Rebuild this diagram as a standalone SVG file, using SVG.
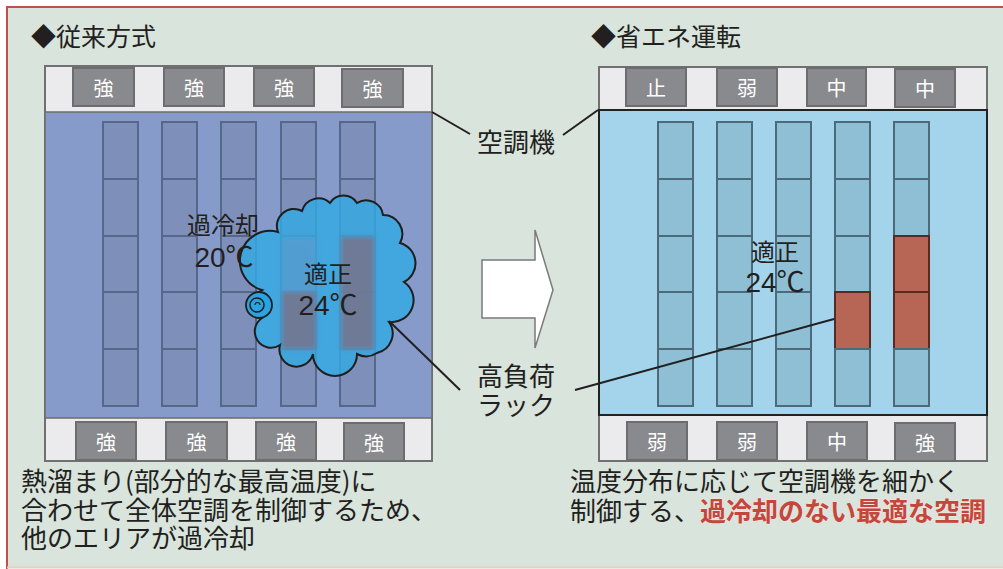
<svg xmlns="http://www.w3.org/2000/svg" width="1003" height="569" viewBox="0 0 1003 569">
<defs>
<style>
.jp{font-family:"Noto Sans CJK JP","Noto Sans CJK SC",sans-serif;fill:#231f20}
.num{font-family:"Liberation Sans","Noto Sans CJK JP",sans-serif;fill:#231f20}
.btn{fill:#898a8e;stroke:#6d6d6f;stroke-width:2}
.btxt{font-family:"Noto Sans CJK JP",sans-serif;font-size:20px;fill:#ffffff;text-anchor:middle}
.strip{fill:#ebebed;stroke:#707070;stroke-width:2}
.rackL{fill:#7e8fb9;stroke:#56688a;stroke-width:2}
.rackR{fill:#8fbfd4;stroke:#4d6a7a;stroke-width:2}
.hot{fill:#b76555;stroke:#5a2a20;stroke-width:2}
.lead{fill:none;stroke:#231f20;stroke-width:2}
</style>
<filter id="blur" x="-20%" y="-20%" width="140%" height="140%"><feGaussianBlur stdDeviation="2"/></filter>
</defs>
<rect x="0" y="0" width="1003" height="569" fill="#ffffff"/>
<rect x="7" y="7" width="996" height="560" fill="#d8e4dc"/>
<line x1="6" y1="7" x2="1003" y2="7" stroke="#c0504d" stroke-width="2"/>
<line x1="7" y1="6" x2="7" y2="569" stroke="#c0504d" stroke-width="2"/>
<line x1="7" y1="567.5" x2="1003" y2="567.5" stroke="#e2d2c2" stroke-width="2"/>

<text class="jp" x="31" y="46" font-size="25">◆従来方式</text>
<text class="jp" x="591" y="46" font-size="25">◆省エネ運転</text>

<g id="left-panel">
<rect class="strip" x="45" y="66" width="387" height="395"/>
<rect x="45" y="112" width="387" height="306" fill="#879bcb" stroke="#6c6c6c" stroke-width="1.5"/>
<g id="left-racks">
<rect class="rackL" x="103" y="122" width="35" height="57"/><rect class="rackL" x="103" y="179" width="35" height="57"/><rect class="rackL" x="103" y="236" width="35" height="56"/><rect class="rackL" x="103" y="292" width="35" height="57"/><rect class="rackL" x="103" y="349" width="35" height="57"/>
<rect class="rackL" x="162" y="122" width="35" height="57"/><rect class="rackL" x="162" y="179" width="35" height="57"/><rect class="rackL" x="162" y="236" width="35" height="56"/><rect class="rackL" x="162" y="292" width="35" height="57"/><rect class="rackL" x="162" y="349" width="35" height="57"/>
<rect class="rackL" x="221" y="122" width="35" height="57"/><rect class="rackL" x="221" y="179" width="35" height="57"/><rect class="rackL" x="221" y="236" width="35" height="56"/><rect class="rackL" x="221" y="292" width="35" height="57"/><rect class="rackL" x="221" y="349" width="35" height="57"/>
<rect class="rackL" x="281" y="122" width="35" height="57"/><rect class="rackL" x="281" y="179" width="35" height="57"/><rect class="rackL" x="281" y="236" width="35" height="56"/><rect class="rackL" x="281" y="292" width="35" height="57"/><rect class="rackL" x="281" y="349" width="35" height="57"/>
<rect class="rackL" x="340" y="122" width="35" height="57"/><rect class="rackL" x="340" y="179" width="35" height="57"/><rect class="rackL" x="340" y="236" width="35" height="56"/><rect class="rackL" x="340" y="292" width="35" height="57"/><rect class="rackL" x="340" y="349" width="35" height="57"/>
</g>
<g id="left-top-ac">
<rect class="btn" x="73" y="68" width="61" height="38"/><text class="btxt" x="103.5" y="96">強</text>
<rect class="btn" x="164" y="68" width="60" height="38"/><text class="btxt" x="194" y="96">強</text>
<rect class="btn" x="254" y="68" width="60" height="38"/><text class="btxt" x="284" y="96">強</text>
<rect class="btn" x="342" y="69" width="61" height="38"/><text class="btxt" x="372.5" y="97">強</text>
</g>
<g id="left-bottom-ac">
<rect class="btn" x="76" y="422" width="60" height="38"/><text class="btxt" x="106" y="450">強</text>
<rect class="btn" x="166" y="422" width="61" height="38"/><text class="btxt" x="196.5" y="450">強</text>
<rect class="btn" x="256" y="422" width="60" height="38"/><text class="btxt" x="286" y="450">強</text>
<rect class="btn" x="344" y="423" width="60" height="38"/><text class="btxt" x="374" y="451">強</text>
</g>
</g>

<g id="hotspot-cloud">
<path d="M262 290 A20 20 0 0 1 278 232 A17 17 0 0 1 302 211 A17 17 0 0 1 330 203 A16 16 0 0 1 357 203 A17 17 0 0 1 383 215 A19 19 0 0 1 400 243 A21 21 0 0 1 404 282 A22 22 0 0 1 389 322 A20 20 0 0 1 377 353 A20 20 0 0 1 357 354 A22 22 0 0 1 313 354 A17 17 0 0 1 280 345 A16 16 0 0 1 262 318 A16 16 0 0 1 262 290 Z" fill="#33a8e3" fill-opacity="0.82"/>
<g filter="url(#blur)">
<rect x="282" y="238" width="34" height="54" fill="#6f8fc0" opacity="0.35"/>
<rect x="282" y="292" width="34" height="57" fill="#72758f" opacity="0.9"/>
<rect x="341" y="237" width="33" height="112" fill="#72758f" opacity="0.9"/>
</g>
<path d="M262 290 A20 20 0 0 1 278 232 A17 17 0 0 1 302 211 A17 17 0 0 1 330 203 A16 16 0 0 1 357 203 A17 17 0 0 1 383 215 A19 19 0 0 1 400 243 A21 21 0 0 1 404 282 A22 22 0 0 1 389 322 A20 20 0 0 1 377 353 A20 20 0 0 1 357 354 A22 22 0 0 1 313 354 A17 17 0 0 1 280 345 A16 16 0 0 1 262 318 A16 16 0 0 1 262 290 Z" fill="none" stroke="#1e1e1e" stroke-width="2"/>
<circle cx="259" cy="305" r="13" fill="#2aa3e0" stroke="#1e1e1e" stroke-width="1.8"/>
<circle cx="257" cy="305" r="7" fill="#2aa3e0" stroke="#1e1e1e" stroke-width="1.5"/>
<path d="M255 305 A2.5 2.5 0 0 1 260 305" fill="none" stroke="#1e1e1e" stroke-width="1.2"/>
</g>

<text class="jp" x="223" y="234" font-size="24" text-anchor="middle">過冷却</text>
<text class="num" x="224" y="267" font-size="28" text-anchor="middle">20℃</text>
<text class="jp" x="328" y="283" font-size="24" text-anchor="middle">適正</text>
<text class="num" x="328" y="315" font-size="28" text-anchor="middle">24℃</text>

<g id="right-panel">
<rect class="strip" x="599" y="67" width="388" height="394"/>
<rect x="599" y="110" width="388" height="305" fill="#a3d4ec" stroke="#222222" stroke-width="2"/>
<g id="right-racks">
<rect class="rackR" x="658" y="122" width="35" height="57"/><rect class="rackR" x="658" y="179" width="35" height="57"/><rect class="rackR" x="658" y="236" width="35" height="56"/><rect class="rackR" x="658" y="292" width="35" height="57"/><rect class="rackR" x="658" y="349" width="35" height="57"/>
<rect class="rackR" x="717" y="122" width="35" height="57"/><rect class="rackR" x="717" y="179" width="35" height="57"/><rect class="rackR" x="717" y="236" width="35" height="56"/><rect class="rackR" x="717" y="292" width="35" height="57"/><rect class="rackR" x="717" y="349" width="35" height="57"/>
<rect class="rackR" x="776" y="122" width="35" height="57"/><rect class="rackR" x="776" y="179" width="35" height="57"/><rect class="rackR" x="776" y="236" width="35" height="56"/><rect class="rackR" x="776" y="292" width="35" height="57"/><rect class="rackR" x="776" y="349" width="35" height="57"/>
<rect class="rackR" x="835" y="122" width="35" height="57"/><rect class="rackR" x="835" y="179" width="35" height="57"/><rect class="rackR" x="835" y="236" width="35" height="56"/><rect class="hot" x="835" y="292" width="35" height="57"/><rect class="rackR" x="835" y="349" width="35" height="57"/>
<rect class="rackR" x="894" y="122" width="35" height="57"/><rect class="rackR" x="894" y="179" width="35" height="57"/><rect class="hot" x="894" y="236" width="35" height="56"/><rect class="hot" x="894" y="292" width="35" height="57"/><rect class="rackR" x="894" y="349" width="35" height="57"/>
</g>
<g id="right-top-ac">
<rect class="btn" x="626" y="68" width="60" height="38"/><text class="btxt" x="656" y="96">止</text>
<rect class="btn" x="717" y="68" width="60" height="38"/><text class="btxt" x="747" y="96">弱</text>
<rect class="btn" x="807" y="68" width="59" height="38"/><text class="btxt" x="836.5" y="96">中</text>
<rect class="btn" x="895" y="69" width="60" height="38"/><text class="btxt" x="925" y="97">中</text>
</g>
<g id="right-bottom-ac">
<rect class="btn" x="627" y="422" width="60" height="38"/><text class="btxt" x="657" y="450">弱</text>
<rect class="btn" x="717" y="422" width="60" height="38"/><text class="btxt" x="747" y="450">弱</text>
<rect class="btn" x="807" y="422" width="60" height="38"/><text class="btxt" x="837" y="450">中</text>
<rect class="btn" x="895" y="423" width="60" height="38"/><text class="btxt" x="925" y="451">強</text>
</g>
</g>

<text class="jp" x="775" y="261" font-size="24" text-anchor="middle">適正</text>
<text class="num" x="775" y="292" font-size="28" text-anchor="middle">24℃</text>

<g id="arrow">
<path d="M482 260 L535 260 L535 230 L553 290 L535 348 L535 318 L482 318 Z" fill="#ffffff" stroke="#7a7a7a" stroke-width="1.5"/>
</g>

<g id="connectors">
<line class="lead" x1="432" y1="112" x2="470" y2="134"/>
<line class="lead" x1="563" y1="135" x2="598" y2="110"/>
<line class="lead" x1="389" y1="321" x2="460" y2="390"/>
<line class="lead" x1="575" y1="390" x2="834" y2="319"/>
</g>

<g id="labels">
<text class="jp" x="477" y="152" font-size="26">空調機</text>
<text class="jp" x="477" y="386" font-size="26">高負荷</text>
<text class="jp" x="477" y="415" font-size="26">ラック</text>
</g>

<g id="captions">
<text class="jp" x="21" y="491" font-size="26">熱溜まり(部分的な最高温度)に</text>
<text class="jp" x="21" y="520" font-size="26">合わせて全体空調を制御するため、</text>
<text class="jp" x="21" y="548" font-size="26">他のエリアが過冷却</text>
<text class="jp" x="570" y="491" font-size="26">温度分布に応じて空調機を細かく</text>
<text class="jp" x="570" y="521" font-size="26">制御する、<tspan font-weight="bold" style="fill:#c4473c" stroke="#efe3df" stroke-width="1.5" paint-order="stroke">過冷却のない最適な空調</tspan></text>
</g>
</svg>
